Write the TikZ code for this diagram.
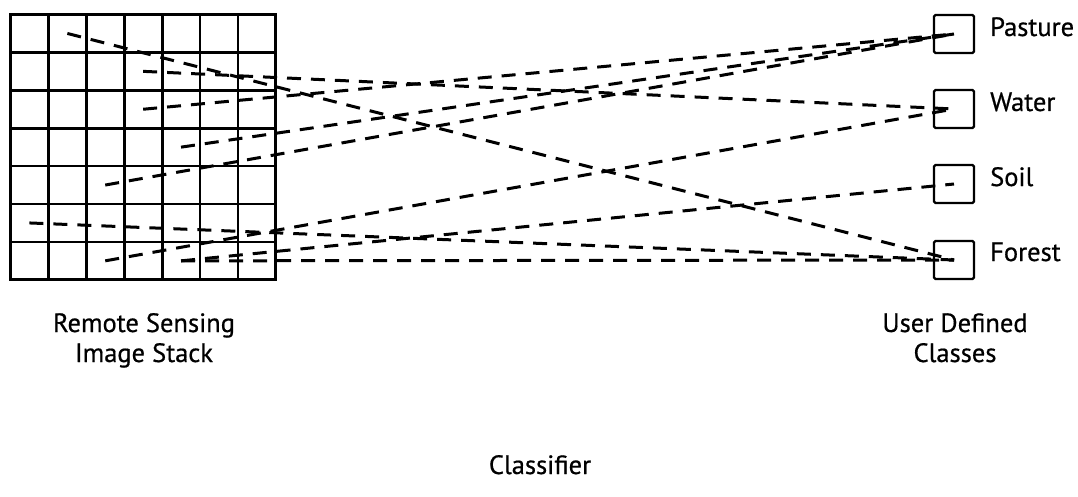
\documentclass[tikz,border=0pt]{standalone}
\usepackage{fontspec}
\setmainfont{PT Sans}[FakeBold=0.6]
\begin{document}
\begin{tikzpicture}[x=1pt,y=-1pt,
  cell/.style={draw=black, line width=2.8pt, minimum width=37.9pt, minimum height=37.9pt, inner sep=0pt, outer sep=0pt},
  classbox/.style={draw=black, line width=2.2pt, rounded corners=1.5pt, minimum width=40pt, minimum height=38pt, inner sep=0pt},
  lab/.style={font=\fontsize{26.5}{30}\selectfont, inner sep=0pt},
  link/.style={draw=black, line width=3pt, dash pattern=on 14pt off 10pt}]
\useasboundingbox (0,0) rectangle (1078,497);
% image stack grid
\foreach \c in {1,...,7}{
  \foreach \r in {1,...,7}{
    \node[cell] (p-\c-\r) at ({10.5+37.9*(\c-0.5)},{14.5+37.9*(\r-0.5)}) {};
  }
}
% classes
\node[classbox] (pasture) at (954,34) {};
\node[classbox] (water) at (954,109) {};
\node[classbox] (soil) at (954,184) {};
\node[classbox] (forest) at (954,260) {};
\node[lab, anchor=base west] (tp) at (990,36) {Pasture};
\node[lab, anchor=base west] (tw) at (990,111) {Water};
\node[lab, anchor=base west] (ts) at (990,186) {Soil};
\node[lab, anchor=base west] (tf) at (990,261) {Forest};
% connectors
\draw[link] (p-2-1.center) -- (forest.center);
\draw[link] (p-4-2.center) -- (water.center);
\draw[link] (p-4-3.center) -- (pasture.center);
\draw[link] (p-5-4.center) -- (pasture.center);
\draw[link] (p-3-5.center) -- (pasture.center);
\draw[link] (p-1-6.center) -- (forest.center);
\draw[link] (p-3-7.center) -- (water.center);
\draw[link] (p-5-7.center) -- (soil.center);
\draw[link] (p-5-7.center) -- (forest.center);
% captions
\node[lab, align=center, anchor=base] (cap1) at (144,362) {Remote Sensing\\Image Stack};
\node[lab, align=center, anchor=base] (cap2) at (955,362) {User Defined\\Classes};
\node[lab, anchor=base] (cap3) at (540,474) {Classifier};
\end{tikzpicture}
\end{document}
